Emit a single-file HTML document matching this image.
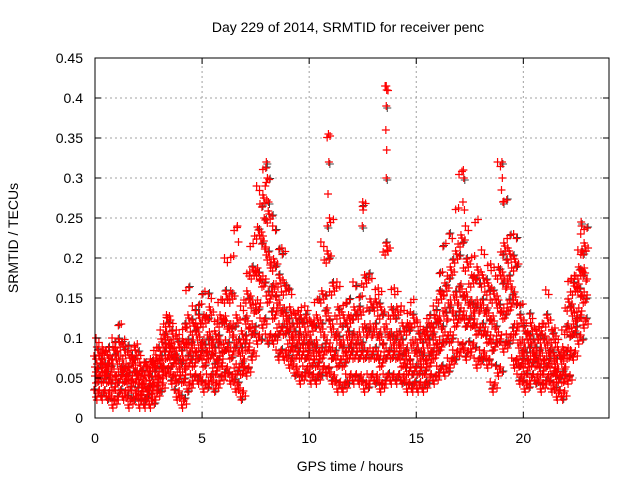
<!DOCTYPE html>
<html><head><meta charset="utf-8"><style>
body{margin:0;background:#fff}
svg{display:block;font-family:"Liberation Sans",sans-serif}
</style></head><body>
<svg id="chart" width="640" height="480" viewBox="0 0 640 480">
<rect width="640" height="480" fill="#fff"/>
<text x="348" y="32" font-size="14" text-anchor="middle">Day 229 of 2014, SRMTID for receiver penc</text>
<g id="grid"></g>
<g id="marks"></g>
<rect x="95" y="58" width="514" height="360" fill="none" stroke="#000" stroke-width="1"/>
<g id="ticks"></g>
<text x="350" y="471" font-size="14" text-anchor="middle">GPS time / hours</text>
<text x="18" y="238" font-size="14" text-anchor="middle" transform="rotate(-90 18 238)">SRMTID / TECUs</text>
</svg>
<script>
const xTicks=[0,5,10,15,20];
const yTicks=[0,0.05,0.1,0.15,0.2,0.25,0.3,0.35,0.4,0.45];
const yTickLabels=["0","0.05","0.1","0.15","0.2","0.25","0.3","0.35","0.4","0.45"];
const binStart=[0,0.25,0.5,0.75,1,1.25,1.5,1.75,2,2.25,2.5,2.75,3,3.25,3.5,3.75,4,4.25,4.5,4.75,5,5.25,5.5,5.75,6,6.25,6.5,6.75,7,7.25,7.5,7.75,8,8.25,8.5,8.75,9,9.25,9.5,9.75,10,10.25,10.5,10.75,11,11.25,11.5,11.75,12,12.25,12.5,12.75,13,13.25,13.5,13.75,14,14.25,14.5,14.75,15,15.25,15.5,15.75,16,16.25,16.5,16.75,17,17.25,17.5,17.75,18,18.25,18.5,18.75,19,19.25,19.5,19.75,20,20.25,20.5,20.75,21,21.25,21.5,21.75,22,22.25,22.5,22.75];
const lowVals=[.03,.03,.03,.02,.03,.03,.02,.03,.02,.02,.02,.03,.04,.06,.05,.03,.02,.04,.05,.05,.04,.05,.04,.05,.06,.05,.04,.03,.06,.08,.10,.12,.10,.10,.08,.08,.07,.06,.05,.06,.05,.05,.06,.06,.05,.04,.04,.05,.05,.05,.04,.05,.05,.04,.05,.05,.05,.05,.04,.04,.04,.04,.05,.05,.06,.06,.07,.08,.09,.08,.09,.07,.08,.07,.04,.06,.09,.10,.07,.05,.04,.05,.05,.04,.05,.04,.03,.03,.05,.08,.10,.12];
const q1Vals=[.05,.05,.05,.04,.05,.05,.04,.05,.035,.03,.035,.045,.055,.08,.07,.05,.05,.07,.07,.08,.07,.08,.06,.07,.09,.08,.06,.06,.09,.11,.14,.17,.15,.13,.11,.11,.09,.08,.08,.08,.07,.07,.08,.09,.08,.07,.07,.08,.08,.08,.08,.08,.08,.07,.08,.08,.08,.07,.06,.06,.06,.06,.07,.08,.09,.10,.10,.12,.13,.12,.12,.11,.11,.10,.09,.10,.13,.14,.11,.07,.06,.07,.07,.06,.07,.06,.05,.05,.08,.11,.13,.15];
const midVals=[.06,.065,.06,.06,.07,.06,.055,.065,.05,.045,.05,.06,.07,.10,.085,.07,.07,.09,.09,.10,.09,.10,.08,.09,.12,.11,.09,.08,.12,.14,.18,.22,.20,.16,.14,.13,.11,.10,.10,.10,.09,.09,.11,.13,.11,.10,.09,.10,.10,.10,.11,.11,.11,.10,.11,.10,.10,.09,.08,.09,.08,.08,.09,.10,.12,.13,.14,.15,.16,.15,.14,.14,.14,.13,.12,.14,.17,.17,.15,.09,.08,.09,.08,.08,.09,.08,.06,.07,.11,.13,.16,.18];
const q3Vals=[.08,.08,.07,.08,.09,.08,.07,.08,.06,.06,.065,.07,.09,.12,.10,.09,.09,.12,.11,.12,.12,.13,.10,.12,.15,.15,.12,.10,.15,.18,.23,.27,.25,.19,.17,.16,.13,.12,.12,.12,.11,.12,.15,.20,.16,.13,.12,.12,.13,.13,.17,.14,.14,.13,.21,.13,.13,.11,.11,.12,.10,.10,.11,.12,.15,.16,.18,.20,.22,.19,.17,.18,.17,.16,.15,.18,.21,.20,.19,.12,.10,.11,.10,.10,.12,.10,.08,.08,.14,.16,.18,.21];
const highVals=[.10,.09,.09,.10,.125,.10,.09,.10,.08,.07,.08,.09,.11,.135,.12,.11,.12,.165,.14,.15,.16,.155,.13,.15,.20,.21,.24,.14,.19,.22,.29,.32,.30,.24,.22,.21,.16,.14,.14,.14,.13,.15,.22,.36,.25,.17,.15,.15,.17,.16,.27,.18,.17,.16,.415,.17,.16,.14,.14,.15,.12,.12,.13,.14,.19,.22,.23,.27,.31,.24,.21,.25,.21,.20,.19,.32,.28,.23,.23,.15,.12,.13,.12,.12,.16,.12,.10,.11,.18,.18,.21,.245];
const spikeTimes=[8.0,8.05,7.95,8.1,7.9,10.9,10.92,10.88,10.95,10.85,12.5,12.52,12.48,13.6,13.62,13.6,13.58,13.62,13.6,13.65,17.2,17.22,17.18,17.25,19.0,19.02,18.98,19.05,6.65,6.7,22.7,22.72,22.68,22.74];
const spikeVals=[.32,.30,.29,.27,.25,.355,.32,.28,.25,.24,.27,.26,.24,.415,.41,.39,.36,.335,.30,.21,.31,.30,.27,.26,.32,.30,.285,.27,.24,.22,.245,.24,.23,.21];
const X0=95,X1=609,Y0=418,Y1=58,XMAX=24,YMAX=0.45;
function xs(v){return X0+(X1-X0)*v/XMAX;}
function ys(v){return Y0-(Y0-Y1)*v/YMAX;}
const NS="http://www.w3.org/2000/svg";
const grid=document.getElementById('grid'),ticks=document.getElementById('ticks'),marks=document.getElementById('marks');
function mk(tag,attrs,parent){const e=document.createElementNS(NS,tag);for(const k in attrs)e.setAttribute(k,attrs[k]);parent.appendChild(e);return e;}
yTicks.forEach((v,i)=>{
  const y=ys(v);
  if(i>0&&i<yTicks.length-1){const g=mk('line',{x1:X0,x2:X1,y1:y,y2:y,stroke:'#a0a0a0','stroke-dasharray':'2,3'},grid);
  
  }
  const t1=mk('line',{x1:X0,x2:X0+6,y1:y,y2:y,stroke:'#000'},ticks);
  
  
  const t2=mk('line',{x1:X1,x2:X1-6,y1:y,y2:y,stroke:'#000'},ticks);
  
  
  const lb=mk('text',{x:83,y:y+5,'font-size':14,'text-anchor':'end'},ticks);lb.textContent=yTickLabels[i];
  
  
});
xTicks.forEach(v=>{
  const x=xs(v);
  if(v>0){const g=mk('line',{x1:x,x2:x,y1:Y0,y2:Y1,stroke:'#a0a0a0','stroke-dasharray':'2,3'},grid);
  
  }
  const t1=mk('line',{x1:x,x2:x,y1:Y0,y2:Y0-6,stroke:'#000'},ticks);
  
  
  const t2=mk('line',{x1:x,x2:x,y1:Y1,y2:Y1+6,stroke:'#000'},ticks);
  
  
  const lb=mk('text',{x:x,y:443,'font-size':14,'text-anchor':'middle'},ticks);lb.textContent=String(v);
  
  
});
const series=[lowVals,q1Vals,midVals,q3Vals,highVals];
const subX=[0.0,0.045,0.09,0.135,0.18,0.225];
const spreadY=[[-4,3,-1,6,-3,2],[5,-2,-6,1,4,-3],[-3,-6,2,-1,5,7],[2,5,-4,-7,1,-2],[0,-3,-5,3,-1,4]];
let gray='',red='';
function plus(x,y){return 'M'+(x-4)+' '+y+'h8M'+x+' '+(y-4)+'v8';}
binStart.forEach((t,i)=>{
  series.forEach((s,j)=>{
    subX.forEach((o,k)=>{
      if(j===4&&(k+i)%3!==0)return;
      const dy=(j===4&&k>0)?Math.abs(spreadY[j][k])*1.5:spreadY[j][k];
      const x=xs(t+o)+((j*2+k)%3)-1,y=ys(s[i])+dy;
      if((i+j+k)%5===0)gray+=plus(x+1,y-1);
      red+=plus(x,y);
    });
  });
});
spikeTimes.forEach((t,i)=>{
  const x=xs(t),y=ys(spikeVals[i]);
  if(i%3===0)gray+=plus(x+1,y+2);
  red+=plus(x,y);
});
const pg=mk('path',{d:gray,stroke:'#404040','stroke-width':1,fill:'none'},marks);


const pr=mk('path',{d:red,stroke:'#ff0000','stroke-width':1.2,fill:'none'},marks);


</script>
</body></html>
